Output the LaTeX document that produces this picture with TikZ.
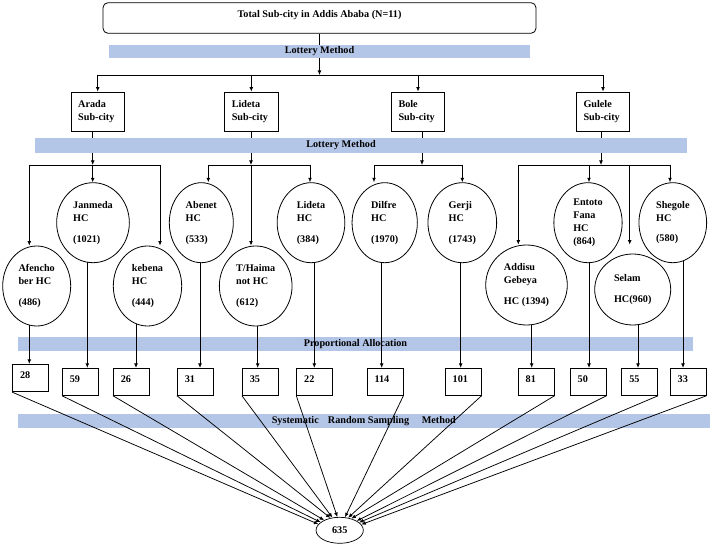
\documentclass[tikz,border=0pt]{standalone}
\usepackage{fontspec}
\setmainfont{Liberation Serif}
\usetikzlibrary{arrows.meta,shapes.geometric,calc}
\definecolor{bandblue}{RGB}{180,198,231}
\begin{document}
\begin{tikzpicture}[x=1pt,y=-1pt,
  every node/.style={font=\fontsize{10.2}{13.3}\selectfont\bfseries, inner sep=0pt},
  ln/.style={line width=0.75pt},
  arr/.style={line width=0.75pt,-{Latex[length=4.5pt,width=3.8pt]}},
  band/.style={fill=bandblue,rectangle},
  subbox/.style={draw,line width=0.8pt,rectangle,minimum height=39pt,text width=39pt,inner xsep=7.3pt,align=left},
  hc/.style={draw,line width=0.8pt,ellipse,align=left},
  numbox/.style={draw,line width=0.8pt,rectangle,minimum height=27pt,text width=21pt,inner xsep=7.5pt,align=left,text depth=5.6pt}
]
\useasboundingbox (0,0) rectangle (714,545);

% bands
\node[band,minimum width=421pt,minimum height=13pt] (b1) at (319.5,51.5) {Lottery Method};
\node[band,minimum width=652pt,minimum height=14.7pt,label={[xshift=-20pt]center:Lottery Method}] (b2) at (361,145.3) {};
\node[band,minimum width=675.6pt,minimum height=13.4pt] (b3) at (355.5,344) {Proportional Allocation};
\node[band,minimum width=692.3pt,minimum height=14pt] (b4) at (363.8,421.3) {Systematic\hspace{6.5pt} Random Sampling\hspace{10pt} Method};

% top box
\node[draw,rounded corners=5pt,line width=0.8pt,minimum width=433pt,text height=10.5pt,text depth=11.5pt,inner ysep=4.3pt] (top) at (319.5,18) {Total Sub-city in Addis Ababa (N=11)};

% sub-city boxes
\node[subbox] (arada) at (97.7,111.5) {Arada\\Sub-city};
\node[subbox] (lideta) at (251.3,111.5) {Lideta\\Sub-city};
\node[subbox] (bole) at (418,111.5) {Bole\\Sub-city};
\node[subbox] (gulele) at (603,111.5) {Gulele\\Sub-city};

% top connectors
\coordinate (j0) at (319.5,75);
\draw[ln] (top.south) -- (b1.north);
\draw[arr] (b1.south) -- (j0);
\draw[ln] (arada.north |- j0) -- (gulele.north |- j0);
\foreach \s in {arada,lideta,bole,gulele}
  \draw[arr] (\s.north |- j0) -- (\s.north);

% sub-city -> band2 -> junctions
\coordinate (ja) at (92.7,165);
\coordinate (jl) at (251,165);
\coordinate (jb) at (422,165);
\coordinate (jg) at (601,165);
\foreach \s/\j in {arada/ja,lideta/jl,bole/jb,gulele/jg}{
  \draw[ln] (\j |- \s.south) -- (\j |- b2.north);
  \draw[arr] (\j |- b2.south) -- (\j);
}

% health centres
\node[hc,minimum width=68pt,minimum height=80pt] (afen) at (36.7,286) {Afencho\\ber HC\\[7.7pt](486)};
\node[hc,minimum width=72.7pt,minimum height=80pt] (janm) at (93,222.7) {Janmeda\\HC\\[7.7pt](1021)};
\node[hc,minimum width=68.4pt,minimum height=80pt] (keb) at (147.5,286) {kebena\\HC\\[7.7pt](444)};
\node[hc,minimum width=64pt,minimum height=80pt] (aben) at (201.3,222.7) {Abenet\\HC\\[7.7pt](533)};
\node[hc,minimum width=72.7pt,minimum height=80pt] (thai) at (255.7,286) {T/Haima\\not HC\\[7.7pt](612)};
\node[hc,minimum width=67.7pt,minimum height=80pt] (lhc) at (311,222.7) {Lideta\\HC\\[7.7pt](384)};
\node[hc,minimum width=65.3pt,minimum height=80pt] (dil) at (384.7,222.7) {Dilfre\\HC\\[7.7pt](1970)};
\node[hc,minimum width=68.7pt,minimum height=80pt] (ger) at (462.3,222.7) {Gerji\\HC\\[7.7pt](1743)};
\node[hc,minimum width=81.6pt,minimum height=80pt] (add) at (526.5,285) {Addisu\\Gebeya\\[7.7pt]HC (1394)};
\node[hc,minimum width=68.3pt,minimum height=80pt] (ent) at (588,222.7) {Entoto\\Fana\\HC\\(864)};
\node[hc,minimum width=76pt,minimum height=71pt] (sel) at (632.7,289.5) {Selam\\[8.4pt]HC(960)};
\node[hc,minimum width=67.7pt,minimum height=80pt] (sheg) at (672.8,222.7) {Shegole\\HC\\[7pt](580)};

% branch lines
\coordinate (a1) at (29.3,165); \coordinate (a3) at (160,165);
\draw[ln] (a1) -- (a3);
\draw[arr] (a1) -- (a1 |- afen.north);
\draw[arr] (ja) -- (ja |- janm.north);
\draw[arr] (a3) -- (a3 |- keb.north);

\coordinate (l1) at (208.3,165); \coordinate (l3) at (310,165);
\draw[ln] (l1) -- (l3);
\draw[arr] (l1) -- (l1 |- aben.north);
\draw[arr] (jl) -- (jl |- thai.north);
\draw[arr] (l3) -- (l3 |- lhc.north);

\coordinate (o1) at (374,165); \coordinate (o2) at (462.3,165);
\draw[ln] (o1) -- (o2);
\draw[arr] (o1) -- (o1 |- dil.north);
\draw[arr] (o2) -- (o2 |- ger.north);

\coordinate (g1) at (518.3,165); \coordinate (g2) at (589,165);
\coordinate (g3) at (629.7,165); \coordinate (g4) at (670,165);
\draw[ln] (g1) -- (g4);
\draw[arr] (g1) -- (g1 |- add.north);
\draw[arr] (g2) -- (g2 |- ent.north);
\draw[arr] (g3) -- (g3 |- add.north);
\draw[arr] (g4) -- (g4 |- sheg.north);

% number boxes
\node[numbox,minimum height=27.4pt] (n28) at (30.5,378) {28};
\node[numbox] (n59) at (80.3,381.8) {59};
\node[numbox] (n26) at (131.3,381.8) {26};
\node[numbox] (n31) at (195.3,381.8) {31};
\node[numbox] (n35) at (260.3,381.8) {35};
\node[numbox] (n22) at (314.7,381.8) {22};
\node[numbox] (n114) at (385,381.8) {114};
\node[numbox] (n101) at (463.2,381.8) {101};
\node[numbox] (n81) at (536.2,381.8) {81};
\node[numbox] (n50) at (588.2,381.8) {50};
\node[numbox] (n55) at (639.8,381.8) {55};
\node[numbox] (n33) at (688.2,381.8) {33};

% HC -> number boxes
\foreach \e/\n/\x/\g in {afen/n28/29.3/1.2, janm/n59/87.3/0.8, keb/n26/136/2.6, aben/n31/200/0.4,
  thai/n35/257.7/0.4, lhc/n22/314.3/0.5, dil/n114/381.7/0.5, ger/n101/460.7/0.4,
  add/n81/531.7/0.6, ent/n50/589/0.4, sel/n55/638/0.6, sheg/n33/683/2.1}{
  \coordinate (tmp) at (\x,0);
  \draw[arr] ($(tmp |- \e.south)+(0,-\g)$) -- (tmp |- \n.north);
}

% total
\node[draw,ellipse,line width=0.7pt,minimum width=47.3pt,minimum height=26pt] (tot) at (339.7,530.3) {635};

\foreach \n/\a in {n28/164,n59/157,n26/147,n31/127,n35/120,n22/100}
  \draw[arr] (\n.south west) -- (tot.\a);
\foreach \n/\a in {n114/68,n101/56,n81/45,n50/29,n55/22,n33/15}
  \draw[arr] (\n.south east) -- (tot.\a);
\end{tikzpicture}
\end{document}
